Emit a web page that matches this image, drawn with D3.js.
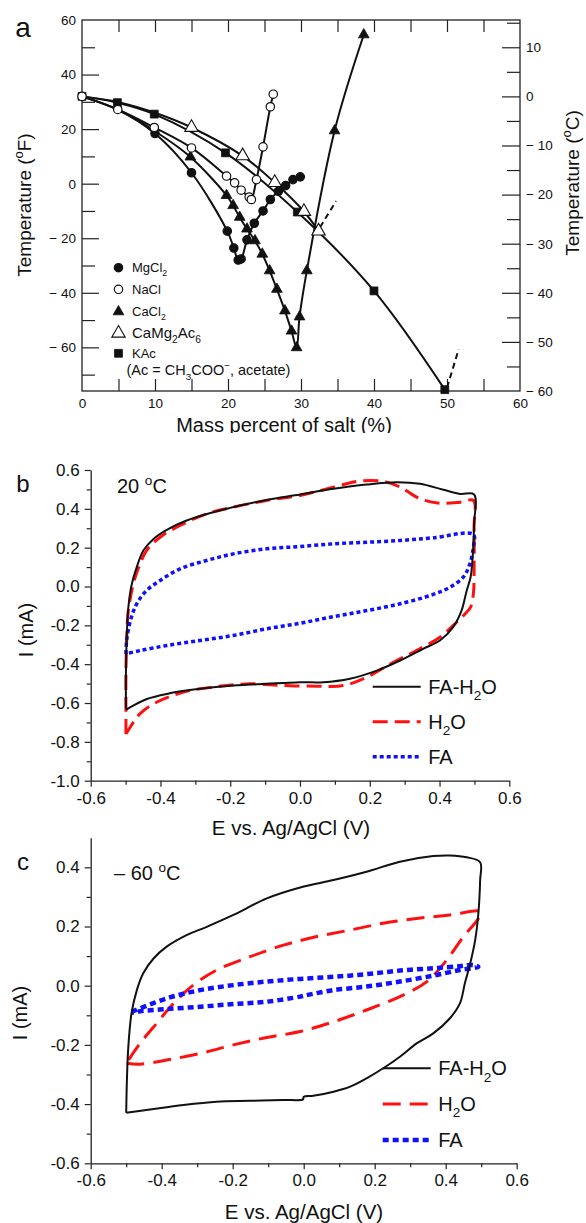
<!DOCTYPE html>
<html><head><meta charset="utf-8">
<script src="https://cdn.jsdelivr.net/npm/d3@7"></script>
<style>
body{margin:0;background:#fff}
svg{display:block}
text{font-family:"Liberation Sans",Arial,Helvetica,sans-serif;fill:#111}
</style>
</head><body>
<svg id="chart" width="586" height="1223"></svg>
<script>
// ---------------- Panel a data ----------------
const aXTicks=[0,10,20,30,40,50,60];
const aFTicks=[60,40,20,0,-20,-40,-60];
const aCTicks=[10,0,-10,-20,-30,-40,-50,-60];

const mgX=[0,5,10,15,19.9,20.8,21.4,21.8,22.6,23.6,24.8,25.8,26.9,27.9,28.9,29.9];
const mgF=[32,27,18.4,4.0,-17.4,-23.6,-28,-27.6,-20.6,-14.5,-10,-5.8,-2.8,-0.7,1.5,2.5];
const mgMk=[0,0,1,1,1,1,1,1,1,1,1,1,1,1,1,1];

const naX=[0,4.9,9.9,15,19.8,20.9,21.8,22.9,23.2,23.9,24.8,25.8,26.2];
const naF=[32,27.2,20.6,13.1,2.8,0.3,-2.4,-4.9,-5.8,1.5,13.5,28.2,32.8];
const naMk=[1,1,1,1,1,1,1,1,1,1,1,1,1];

const caX=[0,5,10,14.85,19.8,20.7,21.6,22.6,23.7,24.7,25.7,26.7,27.8,28.7,29.4,29.8,30.8,34.6,38.6];
const caF=[32,27,19.2,9.8,-4.3,-8,-12.3,-16.6,-20.9,-25.8,-31.9,-38.7,-46.6,-54,-60.1,-48.8,-31.9,19.4,54.6];
const caMk=[0,0,0,1,1,1,1,1,1,1,1,1,1,1,1,1,1,1,1];

const cmaX=[0,5,10,15,22,26.4,30.4,32.4];
const cmaF=[32,29.9,26,20.6,10.2,0.4,-10.2,-17.4];
const cmaMk=[0,0,0,1,1,1,1,1];

const kacX=[0,4.85,9.9,19.65,29.5,40,49.7];
const kacF=[32,29.7,25.5,11.3,-10.4,-39.3,-75.5];
const kacMk=[1,1,1,1,1,1,1];

const dash1X=[32.6,34.8], dash1F=[-16,-6.4];
const dash2X=[50,51.6], dash2F=[-74.8,-60.7];

// ---------------- Panel b data (20 °C) ----------------
const cvTicksX=[-0.6,-0.4,-0.2,0,0.2,0.4,0.6];
const cvMinorX=[-0.5,-0.3,-0.1,0.1,0.3,0.5];
const bTicksY=[0.6,0.4,0.2,0,-0.2,-0.4,-0.6,-0.8,-1.0];
const bMinorY=[0.5,0.3,0.1,-0.1,-0.3,-0.5,-0.7,-0.9];

const bMixE=[-0.499,-0.499,-0.497,-0.492,-0.482,-0.468,-0.449,-0.42,-0.382,-0.325,-0.248,-0.172,-0.096,0,0.096,0.191,0.277,0.344,0.411,0.459,0.499,0.499,0.495,0.489,0.478,0.463,0.439,0.401,0.353,0.287,0.22,0.143,0.067,0,-0.096,-0.191,-0.287,-0.382,-0.439,-0.478,-0.499];
const bMixI=[-0.63,-0.45,-0.278,-0.106,0.014,0.1,0.185,0.245,0.292,0.34,0.383,0.417,0.446,0.474,0.503,0.525,0.537,0.529,0.498,0.477,0.474,0.323,0.151,0.048,-0.02,-0.124,-0.209,-0.278,-0.321,-0.381,-0.433,-0.475,-0.493,-0.493,-0.501,-0.51,-0.527,-0.553,-0.579,-0.613,-0.635];

const bH2oE=[-0.499,-0.499,-0.499,-0.497,-0.493,-0.48,-0.464,-0.44,-0.401,-0.344,-0.268,-0.191,-0.096,0,0.096,0.172,0.239,0.287,0.344,0.401,0.459,0.497,0.499,0.499,0.497,0.489,0.473,0.449,0.401,0.334,0.268,0.191,0.124,0.048,-0.048,-0.143,-0.239,-0.334,-0.411,-0.459,-0.493,-0.499];
const bH2oI=[-0.759,-0.62,-0.45,-0.278,-0.14,-0.003,0.091,0.185,0.254,0.314,0.374,0.409,0.443,0.469,0.512,0.543,0.541,0.512,0.452,0.429,0.434,0.443,0.306,0.065,-0.038,-0.106,-0.141,-0.184,-0.261,-0.33,-0.39,-0.467,-0.51,-0.513,-0.51,-0.501,-0.515,-0.544,-0.596,-0.656,-0.742,-0.759];

const bFaE=[-0.499,-0.497,-0.486,-0.468,-0.44,-0.401,-0.344,-0.268,-0.191,-0.096,0,0.096,0.191,0.287,0.382,0.497,0.497,0.487,0.468,0.43,0.382,0.287,0.191,0.096,0,-0.096,-0.191,-0.287,-0.382,-0.459,-0.499];
const bFaI=[-0.347,-0.278,-0.175,-0.089,-0.021,0.031,0.091,0.134,0.168,0.194,0.206,0.22,0.228,0.237,0.251,0.268,0.203,0.117,0.048,-0.003,-0.041,-0.089,-0.124,-0.155,-0.189,-0.218,-0.252,-0.278,-0.304,-0.33,-0.347];

// ---------------- Panel c data (-60 °C) ----------------
const cTicksY=[0.4,0.2,0,-0.2,-0.4,-0.6];
const cMinorY=[0.3,0.1,-0.1,-0.3,-0.5];

const cMixE=[-0.5,-0.498,-0.494,-0.485,-0.47,-0.452,-0.423,-0.386,-0.33,-0.273,-0.198,-0.104,-0.01,0.084,0.177,0.271,0.365,0.412,0.459,0.497,0.497,0.492,0.483,0.469,0.454,0.44,0.412,0.365,0.318,0.271,0.224,0.177,0.131,0.084,0.027,0,-0.002,-0.057,-0.151,-0.245,-0.339,-0.433,-0.5];
const cMixI=[-0.429,-0.319,-0.206,-0.093,-0.015,0.042,0.092,0.132,0.171,0.199,0.239,0.295,0.332,0.357,0.385,0.419,0.438,0.44,0.434,0.417,0.357,0.244,0.154,0.075,0.008,-0.06,-0.11,-0.161,-0.195,-0.24,-0.279,-0.313,-0.341,-0.358,-0.372,-0.375,-0.384,-0.386,-0.389,-0.392,-0.403,-0.418,-0.429];

const cH2oE=[-0.499,-0.461,-0.386,-0.292,-0.198,-0.104,-0.01,0.084,0.177,0.271,0.347,0.403,0.45,0.492,0.497,0.412,0.318,0.224,0.131,0.037,-0.057,-0.151,-0.245,-0.311,-0.367,-0.414,-0.461,-0.494,-0.499];
const cH2oI=[-0.262,-0.265,-0.251,-0.229,-0.2,-0.175,-0.155,-0.122,-0.082,-0.037,0.014,0.087,0.166,0.227,0.25,0.239,0.227,0.211,0.188,0.166,0.137,0.098,0.053,0.002,-0.06,-0.127,-0.195,-0.252,-0.262];

const cFaE=[-0.485,-0.386,-0.292,-0.198,-0.104,-0.01,0.084,0.177,0.271,0.365,0.44,0.478,0.492,0.44,0.365,0.271,0.177,0.084,0.008,-0.01,-0.104,-0.198,-0.292,-0.386,-0.461,-0.485];
const cFaI=[-0.088,-0.043,-0.015,0.002,0.014,0.023,0.03,0.039,0.051,0.059,0.066,0.07,0.064,0.053,0.034,0.014,-0.003,-0.015,-0.032,-0.037,-0.054,-0.062,-0.071,-0.079,-0.086,-0.091];

const legendNames=["FA-H2O","H2O","FA"];

// ---------------- helpers ----------------
const svg=d3.select("#chart");
const zip=(a,b)=>a.map((v,i)=>[v,b[i]]);

function rich(g,x,y,parts,size,anchor,transform){
  const t=g.append("text").attr("x",x).attr("y",y).attr("font-size",size)
    .attr("text-anchor",anchor||"start");
  if(transform) t.attr("transform",transform);
  let cur=0;
  parts.forEach(([s,k])=>{
    const sp=t.append("tspan").text(s);
    const target=k==="sub"?size*0.32:(k==="sup"?-size*0.42:0);
    sp.attr("dy",target-cur); cur=target;
    if(k==="sub"||k==="sup") sp.attr("font-size",size*0.68);
  });
  return t;
}
function styleAxis(g,fs){
  g.selectAll(".tick line").attr("stroke","#222").attr("stroke-width",1.2);
  g.selectAll(".domain").attr("stroke","#222").attr("stroke-width",1.3);
  g.selectAll("text").attr("font-size",fs).attr("fill","#111")
    .attr("font-family",'"Liberation Sans",Arial,sans-serif');
}

// ================= Panel a =================
const xA=d3.scaleLinear([0,60],[82,520]);
const yF=d3.scaleLinear([-76,60],[391,20]);
const yC=d3.scaleLinear([-60,(60-32)/1.8],[391,20]);
const ga=svg.append("g");

ga.append("rect").attr("x",xA(0)).attr("y",yF(60)).attr("width",xA(60)-xA(0))
  .attr("height",yF(-76)-yF(60)).attr("fill","none").attr("stroke","#222").attr("stroke-width",1.3);

const every5=d3.range(5,60,5);
let t;
t=ga.append("g").attr("transform",`translate(0,${yF(60)})`)
  .call(d3.axisBottom(xA).tickValues(every5).tickSize(12).tickFormat(""));
t.select(".domain").remove(); styleAxis(t,13);
t=ga.append("g").attr("transform",`translate(0,${yF(-76)})`)
  .call(d3.axisTop(xA).tickValues(every5).tickSize(12).tickFormat(""));
t.select(".domain").remove(); styleAxis(t,13);
t=ga.append("g").attr("transform",`translate(0,${yF(-76)})`)
  .call(d3.axisBottom(xA).tickValues(aXTicks).tickSize(0).tickPadding(7));
t.select(".domain").remove(); styleAxis(t,13.5);

const negFmt=d=>d<0?"\u2212 "+(-d):String(d);
t=ga.append("g").attr("transform",`translate(${xA(0)},0)`)
  .call(d3.axisRight(yF).tickValues([40,20,0,-20,-40,-60]).tickSize(17).tickFormat(""));
t.select(".domain").remove(); styleAxis(t,13);
t=ga.append("g").attr("transform",`translate(${xA(0)},0)`)
  .call(d3.axisRight(yF).tickValues([50,30,10,-10,-30,-50,-70]).tickSize(13).tickFormat(""));
t.select(".domain").remove(); styleAxis(t,13);
t=ga.append("g").attr("transform",`translate(${xA(0)},0)`)
  .call(d3.axisLeft(yF).tickValues(aFTicks).tickSize(0).tickPadding(6).tickFormat(negFmt));
t.select(".domain").remove(); styleAxis(t,13.5);

t=ga.append("g").attr("transform",`translate(${xA(60)},0)`)
  .call(d3.axisLeft(yC).tickValues([10,0,-10,-20,-30,-40,-50]).tickSize(18).tickFormat(""));
t.select(".domain").remove(); styleAxis(t,13);
t=ga.append("g").attr("transform",`translate(${xA(60)},0)`)
  .call(d3.axisLeft(yC).tickValues([15,5,-5,-15,-25,-35,-45,-55]).tickSize(13).tickFormat(""));
t.select(".domain").remove(); styleAxis(t,13);
t=ga.append("g").attr("transform",`translate(${xA(60)},0)`)
  .call(d3.axisRight(yC).tickValues(aCTicks).tickSize(0).tickPadding(6).tickFormat(negFmt));
t.select(".domain").remove(); styleAxis(t,13.5);

// axis titles
rich(ga,0,0,[["Temperature (","n"],["o","sup"],["F)","n"]],19,"middle","translate(31,205) rotate(-90)");
rich(ga,0,0,[["Temperature (","n"],["o","sup"],["C)","n"]],19,"middle","translate(579,183) rotate(-90)");
svg.append("defs").append("clipPath").attr("id","clipA").append("rect")
  .attr("x",0).attr("y",0).attr("width",586).attr("height",433);
ga.append("text").attr("x",284).attr("y",432).attr("font-size",20).attr("text-anchor","middle")
  .attr("clip-path","url(#clipA)").text("Mass percent of salt (%)");
ga.append("text").attr("x",23).attr("y",37).attr("font-size",28).attr("text-anchor","middle").text("a");

// curves
const lineA=d3.line().x(d=>xA(d[0])).y(d=>yF(d[1])).curve(d3.curveCatmullRom.alpha(0.5));
const seriesA=[
  {x:caX,y:caF,mk:caMk,shape:"tri",fill:"#111"},
  {x:mgX,y:mgF,mk:mgMk,shape:"circ",fill:"#111"},
  {x:kacX,y:kacF,mk:kacMk,shape:"sq",fill:"#111"},
  {x:cmaX,y:cmaF,mk:cmaMk,shape:"otri",fill:"#fff"},
  {x:naX,y:naF,mk:naMk,shape:"circ",fill:"#fff"}
];
seriesA.forEach(s=>{
  ga.append("path").attr("d",lineA(zip(s.x,s.y))).attr("fill","none")
    .attr("stroke","#111").attr("stroke-width",2);
});
[[dash1X,dash1F],[dash2X,dash2F]].forEach(([dx,dy])=>{
  ga.append("path").attr("d",d3.line().x(d=>xA(d[0])).y(d=>yF(d[1]))(zip(dx,dy)))
    .attr("fill","none").attr("stroke","#111").attr("stroke-width",2).attr("stroke-dasharray","6,4");
});
function marker(g,shape,fill,cx,cy){
  if(shape==="circ"){
    g.append("circle").attr("cx",cx).attr("cy",cy).attr("r",4.2)
      .attr("fill",fill).attr("stroke","#111").attr("stroke-width",1.2);
  }else{
    const sym=shape==="sq"?d3.symbolSquare:d3.symbolTriangle;
    const size=shape==="sq"?62:(shape==="otri"?78:50);
    g.append("path").attr("d",d3.symbol().type(sym).size(size)())
      .attr("transform",`translate(${cx},${cy})`)
      .attr("fill",fill).attr("stroke","#111").attr("stroke-width",shape==="otri"?1.1:0.8);
  }
}
seriesA.forEach(s=>{
  s.x.forEach((v,i)=>{ if(s.mk[i]) marker(ga,s.shape,s.fill,xA(v),yF(s.y[i])); });
});

// legend a
const legA=[
  {shape:"circ",fill:"#111",y:267.7,parts:[["MgCl","n"],["2","sub"]],fs:13},
  {shape:"circ",fill:"#fff",y:289.3,parts:[["NaCl","n"]],fs:13},
  {shape:"tri",fill:"#111",y:311.7,parts:[["CaCl","n"],["2","sub"]],fs:13},
  {shape:"otri",fill:"#fff",y:333.3,parts:[["CaMg","n"],["2","sub"],["Ac","n"],["6","sub"]],fs:15},
  {shape:"sq",fill:"#111",y:353.3,parts:[["KAc","n"]],fs:13}
];
legA.forEach(l=>{
  marker(ga,l.shape,l.fill,118.5,l.y);
  rich(ga,132,l.y+4.6,l.parts,l.fs,"start");
});
rich(ga,126.5,375,[["(Ac = CH","n"],["3","sub"],["COO","n"],["\u2212","sup"],[", acetate)","n"]],14.5,"start");

// ================= CV panels =================
function cvPanel(opt){
  const g=svg.append("g");
  const x=d3.scaleLinear([-0.6,0.6],opt.xr);
  const y=d3.scaleLinear(opt.yd,opt.yr);
  const fmt=d=>(Math.abs(d)<1e-9?"0.0":d.toFixed(1));
  let a;
  a=g.append("g").attr("transform",`translate(0,${opt.yr[0]})`)
    .call(d3.axisBottom(x).tickValues(cvMinorX).tickSize(4).tickFormat(""));
  a.select(".domain").remove(); styleAxis(a,17);
  a=g.append("g").attr("transform",`translate(0,${opt.yr[0]})`)
    .call(d3.axisBottom(x).tickValues(cvTicksX).tickSize(6).tickSizeOuter(0).tickPadding(5).tickFormat(fmt));
  styleAxis(a,17);
  a=g.append("g").attr("transform",`translate(${opt.xr[0]},0)`)
    .call(d3.axisLeft(y).tickValues(opt.minorY).tickSize(4).tickFormat(""));
  a.select(".domain").remove(); styleAxis(a,17);
  a=g.append("g").attr("transform",`translate(${opt.xr[0]},0)`)
    .call(d3.axisLeft(y).tickValues(opt.ticksY).tickSize(6).tickSizeOuter(0).tickPadding(5).tickFormat(fmt));
  styleAxis(a,17);

  const ln=d3.line().x(d=>x(d[0])).y(d=>y(d[1])).curve(d3.curveCatmullRom.alpha(0.5));
  const styles=[
    {stroke:"#111",w:2,dash:null},
    {stroke:"#ff1010",w:3,dash:opt.redDash},
    {stroke:"#1010ff",w:opt.blueW,dash:opt.blueDash}
  ];
  const order=[1,2,0];
  order.forEach(k=>{
    const s=opt.series[k], st=styles[k];
    const p=g.append("path").attr("d",ln(zip(s[0],s[1]))).attr("fill","none")
      .attr("stroke",st.stroke).attr("stroke-width",st.w).attr("stroke-linejoin","round");
    if(st.dash) p.attr("stroke-dasharray",st.dash);
  });
  // legend
  const lp=[[["FA-H","n"],["2","sub"],["O","n"]],[["H","n"],["2","sub"],["O","n"]],[["FA","n"]]];
  legendNames.forEach((nm,k)=>{
    const st=styles[k], ly=opt.legY[k];
    const p=g.append("line").attr("x1",opt.legX[0]).attr("x2",opt.legX[1]).attr("y1",ly).attr("y2",ly)
      .attr("stroke",st.stroke).attr("stroke-width",st.w);
    if(st.dash) p.attr("stroke-dasharray",st.dash);
    rich(g,opt.legX[1]+7.5,ly+7,lp[k],20,"start");
  });
  // labels
  g.append("text").attr("x",opt.titleX).attr("y",opt.titleY).attr("font-size",20.5)
    .attr("text-anchor","middle").text("E vs. Ag/AgCl (V)");
  g.append("text").attr("transform",`translate(${opt.ylabX},${opt.ylabY}) rotate(-90)`)
    .attr("font-size",20).attr("text-anchor","middle").text("I (mA)");
  g.append("text").attr("x",23).attr("y",opt.letterY).attr("font-size",opt.letterFs)
    .attr("text-anchor","middle").text(opt.letter);
  rich(g,opt.tempX,opt.tempY,opt.tempParts,20,"start");
  return g;
}

cvPanel({
  xr:[90.7,509.3], yd:[-1.0,0.6], yr:[780.7,470],
  ticksY:bTicksY, minorY:bMinorY,
  series:[[bMixE,bMixI],[bH2oE,bH2oI],[bFaE,bFaI]],
  redDash:"15,7", blueDash:"4,3", blueW:3.5,
  legX:[372.7,420.7], legY:[686.7,721.7,756.7],
  titleX:291, titleY:835, ylabX:33, ylabY:630,
  letter:"b", letterY:492, letterFs:24,
  tempX:117, tempY:493, tempParts:[["20 ","n"],["o","sup"],["C","n"]]
});
cvPanel({
  xr:[90.7,516.7], yd:[-0.6,0.5], yr:[1163.3,837.7],
  ticksY:cTicksY, minorY:cMinorY,
  series:[[cMixE,cMixI],[cH2oE,cH2oI],[cFaE,cFaI]],
  redDash:"18,9", blueDash:"6,4", blueW:4.5,
  legX:[382.7,430.7], legY:[1068.3,1104,1140],
  titleX:304, titleY:1219, ylabX:27, ylabY:1013,
  letter:"c", letterY:870, letterFs:24,
  tempX:114, tempY:880, tempParts:[["\u2013 60 ","n"],["o","sup"],["C","n"]]
});
</script>
</body></html>
